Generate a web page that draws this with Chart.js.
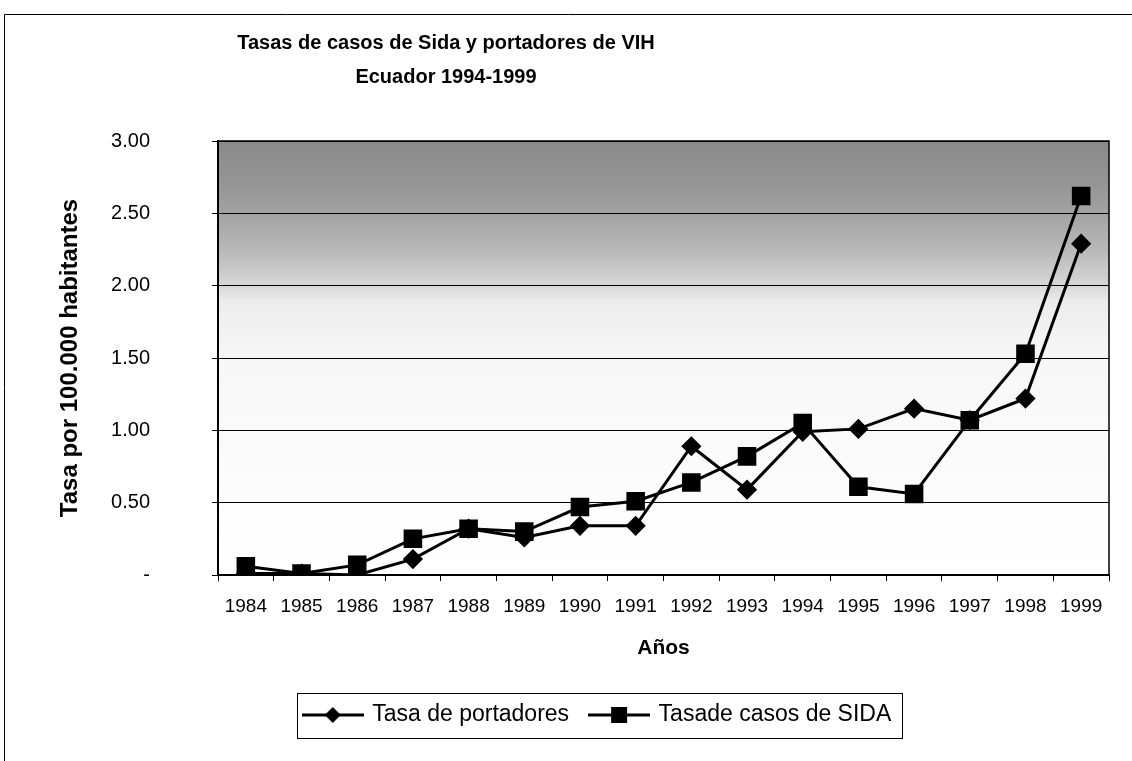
<!DOCTYPE html>
<html>
<head>
<meta charset="utf-8">
<script src="https://cdn.jsdelivr.net/npm/chart.js@4"></script>
<style>
  body { margin: 0; background: #fff; }
  #wrap { position: relative; width: 1132px; height: 761px; }
</style>
</head>
<body>
<div id="wrap"><canvas id="canvas_graph"></canvas></div>
<script>
// datos
const anios = ['1984', '1985', '1986', '1987', '1988', '1989', '1990', '1991',
               '1992', '1993', '1994', '1995', '1996', '1997', '1998', '1999'];
const tasaPortadores = [0.01, 0.01, 0.00, 0.11, 0.32, 0.26, 0.34, 0.34,
                        0.89, 0.59, 0.99, 1.01, 1.15, 1.07, 1.22, 2.29];
const tasaSida = [0.06, 0.01, 0.07, 0.25, 0.32, 0.30, 0.47, 0.51,
                  0.64, 0.82, 1.05, 0.61, 0.56, 1.07, 1.53, 2.62];
const tituloLineas = ['Tasas de casos de Sida y portadores de VIH', 'Ecuador 1994-1999'];
const serieNombres = ['Tasa de portadores', 'Tasade casos de SIDA'];

const fuente = "'Liberation Sans', Arial, sans-serif";

// icono de leyenda: linea con marcador
let legendIcon = (tipo) => {
    const c = document.createElement('canvas');
    c.width = 62;
    c.height = 24;
    const ctx = c.getContext('2d');
    ctx.strokeStyle = '#000';
    ctx.lineWidth = 3;
    ctx.beginPath();
    ctx.moveTo(0, 12);
    ctx.lineTo(62, 12);
    ctx.stroke();
    ctx.fillStyle = '#000';
    ctx.beginPath();
    if (tipo === 'rombo') {
        ctx.moveTo(31, 4);
        ctx.lineTo(39, 12);
        ctx.lineTo(31, 20);
        ctx.lineTo(23, 12);
        ctx.closePath();
    } else {
        ctx.rect(23, 4, 16, 16);
    }
    ctx.fill();
    return c;
}
const iconos = [legendIcon('rombo'), legendIcon('cuadro')];

// fondo degradado, marco de la pagina y borde del area
const fondo = {
    id: 'fondo',
    beforeDraw: (chart) => {
        const {ctx, chartArea: a} = chart;
        ctx.save();
        ctx.strokeStyle = '#000';
        ctx.lineWidth = 1;
        ctx.beginPath();
        ctx.moveTo(4.5, 761);
        ctx.lineTo(4.5, 14.5);
        ctx.lineTo(1132, 14.5);
        ctx.stroke();
        const g = ctx.createLinearGradient(0, a.top, 0, a.bottom);
        g.addColorStop(0, '#8a8a8a');
        g.addColorStop(0.1, '#959595');
        g.addColorStop(0.167, '#a3a3a3');
        g.addColorStop(0.25, '#b8b8b8');
        g.addColorStop(0.33, '#d6d6d6');
        g.addColorStop(0.37, '#ececec');
        g.addColorStop(0.5, '#f7f7f7');
        g.addColorStop(1, '#ffffff');
        ctx.fillStyle = g;
        ctx.fillRect(a.left, a.top, a.right - a.left, a.bottom - a.top);
        ctx.restore();
    },
    afterLayout: (chart) => {
        // mover titulo y leyenda a su sitio
        const t = chart.titleBlock;
        let d = 446 - (t.left + t.right) / 2;
        t.left += d;
        t.right += d;
        const l = chart.legend;
        d = 598 - (l.left + l.right) / 2;
        l.left += d;
        l.right += d;
    },
    afterDraw: (chart) => {
        const {ctx, chartArea: a} = chart;
        ctx.save();
        ctx.strokeStyle = '#000';
        ctx.lineWidth = 1.5;
        ctx.strokeRect(a.left, a.top, a.right - a.left, a.bottom - a.top);
        const hb = chart.legend.legendHitBoxes;
        if (hb && hb.length) {
            const x0 = hb[0].left - 8;
            const x1 = hb[hb.length - 1].left + hb[hb.length - 1].width + 10;
            const yc = hb[0].top + hb[0].height / 2;
            ctx.lineWidth = 1;
            ctx.strokeRect(Math.round(x0) + 0.5, Math.round(yc - 22) + 0.5, Math.round(x1 - x0), 45);
        }
        ctx.restore();
    }
};

const data = {
    labels: anios,
    datasets: [
        {
            label: serieNombres[0],
            data: tasaPortadores,
            borderColor: '#000',
            backgroundColor: '#000',
            borderWidth: 3,
            pointStyle: 'rectRot',
            pointRadius: 8,
            pointHoverRadius: 8,
            tension: 0,
            order: 1
        },
        {
            label: serieNombres[1],
            data: tasaSida,
            borderColor: '#000',
            backgroundColor: '#000',
            borderWidth: 3,
            pointStyle: 'rect',
            pointRadius: 11,
            pointHoverRadius: 11,
            tension: 0,
            order: 0
        }
    ]
}

const config = {
    type: 'line',
    data: data,
    plugins: [fondo],
    options: {
        responsive: true,
        maintainAspectRatio: false,
        animation: false,
        layout: { padding: { top: 0, left: 50, right: 23, bottom: 24.5 } },
        plugins: {
            title: {
                display: true,
                text: tituloLineas,
                color: '#000',
                font: { family: fuente, size: 20, weight: 'bold', lineHeight: 1.7 },
                padding: { top: 26, bottom: 47 }
            },
            legend: {
                position: 'bottom',
                labels: {
                    usePointStyle: true,
                    pointStyleWidth: 56,
                    padding: 22,
                    color: '#000',
                    font: { family: fuente, size: 23 },
                    generateLabels: () => serieNombres.map((n, i) => ({
                        text: n,
                        pointStyle: iconos[i],
                        fillStyle: '#000',
                        strokeStyle: '#000',
                        lineWidth: 0,
                        hidden: false,
                        datasetIndex: i,
                        fontColor: '#000'
                    }))
                }
            },
            tooltip: { enabled: false }
        },
        scales: {
            x: {
                offset: true,
                afterFit: (scale) => { scale.height = 106.5; },
                grid: {
                    offset: true,
                    drawOnChartArea: false,
                    drawTicks: true,
                    tickLength: 6,
                    color: '#000'
                },
                border: { color: '#000', width: 2 },
                ticks: {
                    color: '#000',
                    padding: 14,
                    maxRotation: 0,
                    autoSkip: false,
                    font: { family: fuente, size: 19 }
                },
                title: {
                    display: true,
                    text: 'Años',
                    color: '#000',
                    font: { family: fuente, size: 21, weight: 'bold' },
                    padding: { top: 0, bottom: 21 }
                }
            },
            y: {
                min: 0,
                max: 3,
                afterFit: (scale) => { scale.width = 168; },
                grid: {
                    color: '#000',
                    lineWidth: 1,
                    drawTicks: true,
                    tickLength: 6
                },
                border: { color: '#000', width: 2 },
                ticks: {
                    stepSize: 0.5,
                    color: '#000',
                    padding: 62,
                    font: { family: fuente, size: 20 },
                    callback: (v) => v === 0 ? '-' : v.toFixed(2)
                },
                title: {
                    display: true,
                    text: 'Tasa por 100.000 habitantes',
                    color: '#000',
                    font: { family: fuente, size: 24, weight: 'bold' },
                    padding: { top: 6, bottom: 0 }
                }
            }
        }
    }
}

const graph = new Chart(document.getElementById('canvas_graph'), config);
</script>
</body>
</html>
